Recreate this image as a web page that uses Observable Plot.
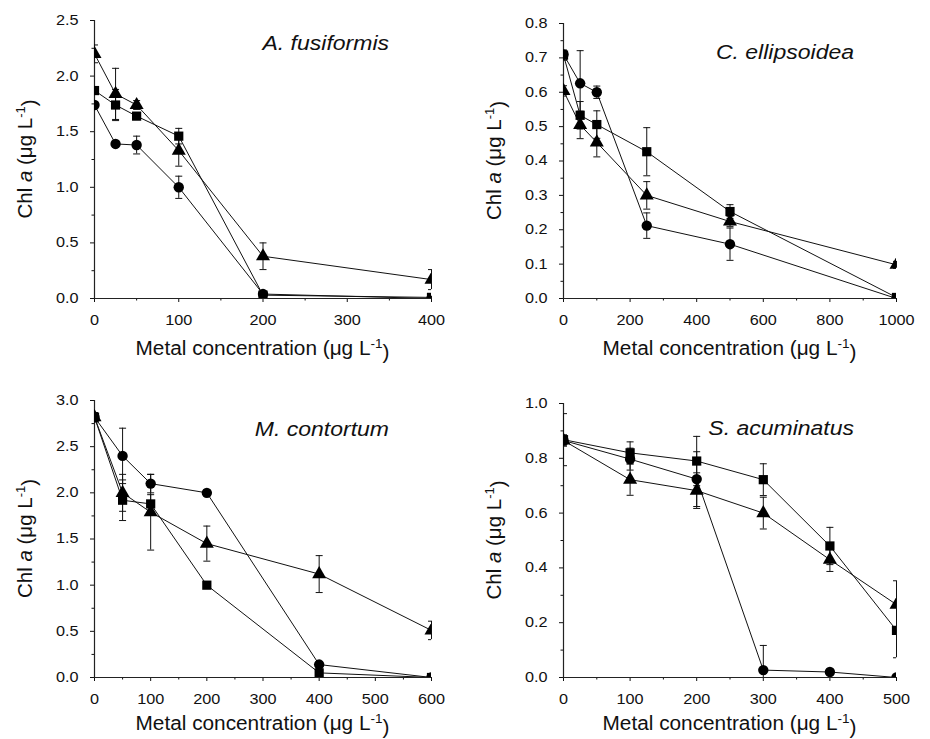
<!DOCTYPE html>
<html><head><meta charset="utf-8">
<script src="https://cdn.jsdelivr.net/npm/d3@7"></script>
<script src="https://cdn.jsdelivr.net/npm/@observablehq/plot@0.6"></script>
<style>
body{margin:0;background:#fff;}
#wrap{position:relative;width:930px;height:739px;font-family:"Liberation Sans",Arial,sans-serif;}
#wrap svg{position:absolute;}
</style></head><body><div id="wrap"></div>
<script>
// ---------- Data ----------
// Panel A: A. fusiformis
const concA = [0, 25, 50, 100, 200, 400];
const circA = [1.74, 1.39, 1.38, 1.00, 0.04, 0.00];
const circAerr = [0.03, 0.02, 0.08, 0.10, 0.01, 0];
const sqA = [1.87, 1.74, 1.64, 1.46, 0.03, 0.01];
const sqAerr = [0.03, 0.14, 0.03, 0.07, 0.01, 0.01];
const triA = [2.20, 1.84, 1.74, 1.33, 0.38, 0.17];
const triAerr = [0.08, 0.23, 0.04, 0.14, 0.12, 0.09];

// Panel B: C. ellipsoidea
const concB = [0, 50, 100, 250, 500, 1000];
const circB = [0.710, 0.626, 0.600, 0.212, 0.158, 0.000];
const circBerr = [0.010, 0.095, 0.018, 0.037, 0.047, 0];
const sqB = [0.708, 0.533, 0.506, 0.427, 0.253, 0.003];
const sqBerr = [0.015, 0.040, 0.040, 0.070, 0.020, 0];
const triB = [0.604, 0.505, 0.454, 0.300, 0.224, 0.098];
const triBerr = [0.015, 0.040, 0.042, 0.040, 0.015, 0.010];

// Panel C: M. contortum
const concC = [0, 50, 100, 200, 400, 600];
const circC = [2.82, 2.40, 2.10, 2.00, 0.14, 0.00];
const circCerr = [0.05, 0.30, 0.10, 0.03, 0.03, 0];
const sqC = [2.82, 1.92, 1.88, 1.00, 0.05, 0.00];
const sqCerr = [0.05, 0.22, 0.10, 0.02, 0.01, 0];
const triC = [2.82, 2.00, 1.79, 1.45, 1.12, 0.51];
const triCerr = [0.05, 0.20, 0.41, 0.19, 0.20, 0.10];

// Panel D: S. acuminatus
const concD = [0, 100, 200, 300, 400, 500];
const circD = [0.865, 0.797, 0.724, 0.027, 0.020, 0.000];
const circDerr = [0.020, 0.040, 0.100, 0.090, 0.005, 0];
const sqD = [0.868, 0.820, 0.790, 0.722, 0.480, 0.172];
const sqDerr = [0.095, 0.040, 0.090, 0.058, 0.068, 0.100];
const triD = [0.865, 0.722, 0.682, 0.600, 0.430, 0.266];
const triDerr = [0.020, 0.057, 0.065, 0.058, 0.043, 0.087];

const species = ["A. fusiformis", "C. ellipsoidea", "M. contortum", "S. acuminatus"];
const xTicksA = [0, 100, 200, 300, 400], xMinorA = [50, 150, 250, 350];
const yTicksA = [0, 0.5, 1.0, 1.5, 2.0, 2.5], yMinorA = [0.25, 0.75, 1.25, 1.75, 2.25];
const xTicksB = [0, 200, 400, 600, 800, 1000], xMinorB = [100, 300, 500, 700, 900];
const yTicksB = [0, 0.1, 0.2, 0.3, 0.4, 0.5, 0.6, 0.7, 0.8], yMinorB = [0.05, 0.15, 0.25, 0.35, 0.45, 0.55, 0.65, 0.75];
const xTicksC = [0, 100, 200, 300, 400, 500, 600], xMinorC = [50, 150, 250, 350, 450, 550];
const yTicksC = [0, 0.5, 1.0, 1.5, 2.0, 2.5, 3.0], yMinorC = [0.25, 0.75, 1.25, 1.75, 2.25, 2.75];
const xTicksD = [0, 100, 200, 300, 400, 500], xMinorD = [50, 150, 250, 350, 450];
const yTicksD = [0, 0.2, 0.4, 0.6, 0.8, 1.0], yMinorD = [0.1, 0.3, 0.5, 0.7, 0.9];

// ---------- Layout ----------
const panels = [
  {name: species[0], conc: concA, series: [[circA, circAerr, "circle"], [sqA, sqAerr, "square"], [triA, triAerr, "triangle"]],
   xt: xTicksA, xm: xMinorA, yt: yTicksA, ym: yMinorA,
   left: 0, top: 0, w: 465, h: 365, ml: 94, mr: 34, mt: 20, mb: 67, nameDy: 30, xlDy: 57},
  {name: species[1], conc: concB, series: [[circB, circBerr, "circle"], [sqB, sqBerr, "square"], [triB, triBerr, "triangle"]],
   xt: xTicksB, xm: xMinorB, yt: yTicksB, ym: yMinorB,
   left: 465, top: 0, w: 465, h: 365, ml: 98, mr: 34, mt: 23, mb: 67, nameDy: 36, xlDy: 57},
  {name: species[2], conc: concC, series: [[circC, circCerr, "circle"], [sqC, sqCerr, "square"], [triC, triCerr, "triangle"]],
   xt: xTicksC, xm: xMinorC, yt: yTicksC, ym: yMinorC,
   left: 0, top: 365, w: 465, h: 374, ml: 94, mr: 34, mt: 35, mb: 62, nameDy: 36, xlDy: 53},
  {name: species[3], conc: concD, series: [[circD, circDerr, "circle"], [sqD, sqDerr, "square"], [triD, triDerr, "triangle"]],
   xt: xTicksD, xm: xMinorD, yt: yTicksD, ym: yMinorD,
   left: 465, top: 365, w: 465, h: 374, ml: 98, mr: 34, mt: 38, mb: 62, nameDy: 32, xlDy: 53}
];

const capSymbol = {draw(ctx) { ctx.moveTo(-3.5, 0); ctx.lineTo(3.5, 0); }};
const FONT = "'Liberation Sans', Arial, Helvetica, sans-serif";
const STRETCH = 1.16;
const wrap = document.getElementById("wrap");

function stretchText(node, s) {
  const t = d3.select(node);
  const tr = t.attr("transform");
  if (tr) {
    t.attr("transform", tr + ` scale(${s},1)`);
  } else {
    const x = +t.attr("x") || 0, y = +t.attr("y") || 0;
    t.attr("x", null).attr("y", null).attr("transform", `translate(${x},${y}) scale(${s},1)`);
  }
}

for (const p of panels) {
  const rows = [];
  p.series.forEach(([vals, errs, sym]) => {
    p.conc.forEach((c, i) => rows.push({x: c, y: vals[i], lo: Math.max(0, vals[i] - errs[i]), hi: vals[i] + errs[i], s: sym}));
  });
  const xmax = p.xt[p.xt.length - 1], ymax = p.yt[p.yt.length - 1];
  const plot = Plot.plot({
    width: p.w, height: p.h,
    marginLeft: p.ml, marginRight: p.mr, marginTop: p.mt, marginBottom: p.mb,
    style: {fontFamily: FONT, fontSize: "14px", color: "#111", background: "transparent", overflow: "visible"},
    x: {domain: [0, xmax]},
    y: {domain: [0, ymax]},
    symbol: {domain: ["circle", "square", "triangle"], range: ["circle", "square", "triangle"]},
    marks: [
      Plot.axisX({ticks: p.xt, tickSize: 4, tickPadding: 13, tickFormat: d3.format("d"), label: null, fontSize: 14}),
      Plot.axisX({ticks: p.xm, tickSize: 2.5, tickFormat: () => "", label: null}),
      Plot.axisY({ticks: p.yt, tickSize: 4, tickPadding: 12, tickFormat: d3.format(".1f"), label: null, fontSize: 14}),
      Plot.axisY({ticks: p.ym, tickSize: 2.5, tickFormat: () => "", label: null}),
      Plot.ruleX([0], {stroke: "#222", strokeWidth: 1.2}),
      Plot.ruleY([0], {stroke: "#222", strokeWidth: 1.2}),
      Plot.ruleX(rows, {x: "x", y1: "lo", y2: "hi", stroke: "#111", strokeWidth: 1}),
      Plot.dot(rows.filter(d => d.hi > d.y + 0.0001), {x: "x", y: "hi", symbol: () => capSymbol, stroke: "#111", strokeWidth: 1, clip: true}),
      Plot.dot(rows.filter(d => d.lo < d.y - 0.0001), {x: "x", y: "lo", symbol: () => capSymbol, stroke: "#111", strokeWidth: 1, clip: true}),
      Plot.line(rows, {x: "x", y: "y", z: "s", stroke: "#111", strokeWidth: 1, clip: true}),
      Plot.dot(rows, {x: "x", y: "y", symbol: "s", fill: "#000", stroke: "none", r: 5.2, clip: true})
    ]
  });
  plot.style.left = p.left + "px";
  plot.style.top = p.top + "px";
  const svg = d3.select(plot);
  // widen tick label glyphs like the reference
  svg.selectAll("g[aria-label$='tick label'] text").each(function() { stretchText(this, STRETCH); });
  const cx = p.ml + (p.w - p.ml - p.mr) / 2;
  const cy = p.mt + (p.h - p.mt - p.mb) / 2;
  // x label
  const xl = svg.append("text").attr("transform", `translate(${cx},${p.h - p.mb + p.xlDy}) scale(1.04,1)`)
    .attr("text-anchor", "middle").style("font-size", "20px").style("font-family", FONT).attr("fill", "#111");
  xl.append("tspan").text("Metal concentration (μg L");
  xl.append("tspan").attr("dy", "-0.55em").style("font-size", "13px").text("-1");
  xl.append("tspan").attr("dy", "0.55em").text(")");
  // y label
  const yl = svg.append("text").attr("transform", `translate(${p.ml - 62},${cy}) rotate(-90)`)
    .attr("text-anchor", "middle").style("font-size", "20.5px").style("font-family", FONT).attr("fill", "#111");
  yl.append("tspan").text("Chl ");
  yl.append("tspan").style("font-style", "italic").text("a");
  yl.append("tspan").text(" (μg L");
  yl.append("tspan").attr("dy", "-0.55em").style("font-size", "13px").text("-1");
  yl.append("tspan").attr("dy", "0.55em").text(")");
  // species name
  svg.append("text").attr("transform", `translate(${p.w - p.mr - 42},${p.mt + p.nameDy}) scale(1.18,1)`)
    .attr("text-anchor", "end").style("font-size", "19.5px").style("font-style", "italic")
    .style("font-family", FONT).attr("fill", "#111").text(p.name);
  wrap.appendChild(plot);
}
</script></body></html>
